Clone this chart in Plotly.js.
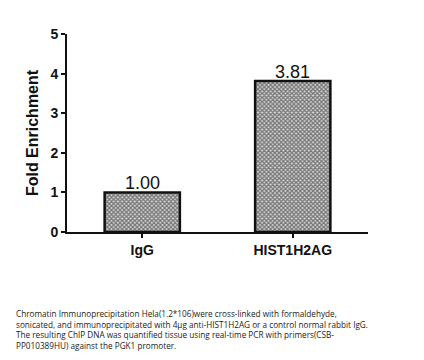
<!DOCTYPE html>
<html><head><meta charset="utf-8">
<script src="https://cdn.plot.ly/plotly-3.0.1.min.js"></script>
<style>html,body{margin:0;padding:0;background:#fff}#chart{width:424px;height:360px}</style>
</head><body><div id="chart"></div>
<script>
const categories = ["IgG", "HIST1H2AG"];
const foldEnrichment = [1.00, 3.81];
const valueLabels = ["1.00", "3.81"];
const yTicks = [0, 1, 2, 3, 4, 5];
const caption = "Chromatin Immunoprecipitation Hela(1.2*106)were cross-linked with formaldehyde,<br>sonicated, and immunoprecipitated with 4μg anti-HIST1H2AG or a control normal rabbit IgG.<br>The resulting ChIP DNA was quantified tissue using real-time PCR with primers(CSB-<br>PP010389HU) against the PGK1 promoter.";

const trace = {
  type: "bar",
  x: categories,
  y: foldEnrichment,
  width: 0.5,
  marker: {
    color: "#ffffff",
    line: {color: "#111", width: 2.5},
    pattern: {shape: "x", size: 3, solidity: 0.65, fgcolor: "#111", bgcolor: "#d8d8d8", fillmode: "overlay"}
  },
  hoverinfo: "none"
};

const valueAnnotations = categories.map((c, i) => ({
  x: c, y: foldEnrichment[i], xref: "x", yref: "y",
  text: valueLabels[i], showarrow: false, yanchor: "bottom", yshift: -3,
  font: {family: "Liberation Sans, Arial, sans-serif", size: 18, color: "#111"}
}));

const layout = {
  width: 424, height: 360,
  margin: {l: 67, r: 56, t: 34, b: 128},
  paper_bgcolor: "#fff", plot_bgcolor: "#fff",
  showlegend: false,
  font: {family: "Liberation Sans, Arial, sans-serif", color: "#111"},
  xaxis: {
    range: [-0.5, 1.5],
    showline: true, linecolor: "#111", linewidth: 2,
    ticks: "outside", ticklen: 4, tickwidth: 2, tickcolor: "#111",
    showgrid: false, zeroline: false,
    tickfont: {size: 14, weight: "bold", color: "#111"}
  },
  yaxis: {
    range: [0, 5],
    tickvals: yTicks,
    showline: true, linecolor: "#111", linewidth: 2,
    ticks: "outside", ticklen: 4, tickwidth: 2, tickcolor: "#111",
    showgrid: false, zeroline: false,
    tickfont: {size: 14, weight: "bold", color: "#111"},
    title: {text: "Fold Enrichment", font: {size: 16, weight: "bold", color: "#111"}, standoff: 8}
  },
  annotations: valueAnnotations.concat([{
    text: caption, xref: "paper", yref: "paper",
    x: -0.175, y: -0.375, xanchor: "left", yanchor: "top", align: "left",
    showarrow: false,
    font: {family: "Open Sans, sans-serif", size: 8.2, color: "#222"}
  }])
};

Plotly.newPlot("chart", [trace], layout, {staticPlot: true, displayModeBar: false});
</script></body></html>
